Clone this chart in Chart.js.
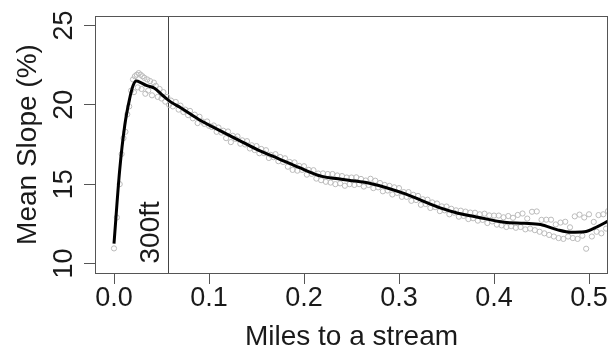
<!DOCTYPE html>
<html><head><meta charset="utf-8">
<script src="https://cdn.jsdelivr.net/npm/chart.js@4"></script>
<style>html,body{margin:0;padding:0;background:#fff}#wrap{width:613px;height:351px}</style>
</head><body>
<div id="wrap"><canvas id="c" width="613" height="351"></canvas></div>
<script>
// ---- data ----
const curveX = [0, 0.006, 0.0113, 0.0165, 0.02, 0.0234, 0.0287, 0.034, 0.0426, 0.0513, 0.06, 0.0706, 0.0897, 0.111, 0.1316, 0.1525, 0.1735, 0.194, 0.219, 0.236, 0.247, 0.271, 0.306, 0.341, 0.362, 0.383, 0.411, 0.432, 0.449, 0.467, 0.481, 0.495, 0.509, 0.52];
const curveY = [11.25, 15.9, 18.7, 20.4, 21.2, 21.5, 21.39, 21.22, 21.05, 20.59, 20.17, 19.8, 19.06, 18.39, 17.76, 17.13, 16.6, 16.07, 15.49, 15.34, 15.25, 15.03, 14.4, 13.55, 13.17, 12.92, 12.6, 12.54, 12.46, 12.12, 11.97, 12.0, 12.33, 12.67];
const scatterPts = [
[0,10.95],[0.003,12.9],[0.006,15.0],[0.008,16.9],[0.01,17.9],[0.012,18.3],[0.014,19.4],[0.016,19.9],[0.018,20.9],[0.02,21.6],
[0.021,20.8],[0.022,21.8],[0.024,21.9],[0.025,21.1],[0.026,22.0],[0.028,21.9],[0.029,21.0],[0.03,21.8],[0.032,21.7],[0.033,20.7],
[0.035,21.6],[0.036,20.9],[0.038,21.5],[0.04,20.6],[0.042,21.4],[0.044,21.2],[0.046,20.5],[0.048,21.0],[0.05,20.4],[0.052,20.8],
[0.054,20.2],[0.056,20.5],[0.058,20.0],
[0.06,20.27],[0.062,19.9],[0.065,20.18],[0.068,19.7],[0.07,19.95],[0.073,19.55],[0.075,19.7],[0.078,19.35],[0.08,19.62],[0.083,19.15],
[0.085,19.38],[0.088,18.85],[0.09,19.25],[0.093,18.95],[0.095,18.8],[0.098,18.95],[0.1,18.68],[0.103,18.6],[0.105,18.7],[0.108,18.3],
[0.11,18.57],[0.113,18.25],[0.115,18.37],[0.118,17.9],[0.12,18.32],[0.123,17.65],[0.125,18.05],[0.128,17.85],[0.13,18.01],[0.133,17.55],
[0.135,17.76],[0.138,17.5],[0.14,17.71],[0.143,17.25],[0.145,17.45],[0.148,17.15],[0.15,17.4],[0.153,16.95],[0.155,17.22],[0.158,16.95],
[0.16,17.14],[0.163,16.65],[0.165,16.85],[0.168,16.7],[0.17,16.89],[0.173,16.45],[0.175,16.71],[0.178,16.4],[0.18,16.63],[0.183,16.1],
[0.185,16.4],[0.188,15.9],[0.19,16.37],[0.193,15.85],[0.195,16.15],[0.198,15.9],[0.2,16.13],[0.203,15.6],[0.205,15.9],[0.208,15.65],
[0.21,15.88],[0.213,15.35],[0.215,15.67],[0.218,15.25],[0.22,15.68],[0.223,15.15],[0.225,15.64],[0.228,15.1],[0.23,15.64],[0.233,15.0],
[0.235,15.55],[0.238,15.05],[0.24,15.51],[0.243,14.9],[0.245,15.42],[0.248,15.0],[0.25,15.42],[0.253,14.95],[0.255,15.43],[0.258,15.0],
[0.26,15.33],[0.263,14.85],[0.265,15.23],[0.268,14.95],[0.27,15.34],[0.273,14.75],[0.275,15.22],[0.278,14.8],[0.28,15.07],[0.283,14.55],
[0.285,14.95],[0.288,14.6],[0.29,14.89],[0.293,14.35],[0.295,14.8],[0.298,14.45],[0.3,14.75],[0.303,14.2],[0.305,14.5],[0.308,14.2],
[0.31,14.5],[0.313,13.95],[0.315,14.33],[0.318,14.0],[0.32,14.26],[0.323,13.7],[0.325,14.05],[0.328,13.75],[0.33,14.02],[0.333,13.5],
[0.335,13.85],[0.338,13.55],[0.34,13.78],[0.343,13.3],[0.345,13.6],[0.348,13.35],[0.35,13.59],[0.353,13.1],[0.355,13.45],[0.358,13.2],
[0.36,13.35],[0.363,12.95],[0.365,13.33],[0.368,13.0],[0.37,13.27],[0.373,12.8],[0.375,13.21],[0.378,12.85],[0.38,13.2],[0.383,12.7],
[0.385,13.1],[0.388,12.75],[0.39,13.14],[0.393,12.55],[0.395,13.03],[0.398,12.65],[0.4,13.02],[0.403,12.45],[0.405,13.02],[0.408,12.4],
[0.41,12.91],[0.413,12.3],[0.415,12.99],[0.418,12.35],[0.42,12.88],[0.423,12.25],[0.425,13.06],[0.428,12.3],[0.43,13.15],[0.433,12.15],
[0.435,12.83],[0.438,12.2],[0.44,13.26],[0.443,12.1],[0.445,13.28],[0.448,12.0],[0.45,12.75],[0.453,11.9],[0.455,12.76],[0.458,11.8],
[0.46,12.76],[0.463,11.7],[0.465,12.46],[0.468,11.6],[0.47,12.58],[0.473,11.55],[0.475,12.63],[0.478,11.7],[0.48,12.28],[0.483,11.6],
[0.485,12.97],[0.488,11.55],[0.49,13.08],[0.493,11.75],[0.495,12.9],[0.497,10.93],[0.5,13.1],[0.503,11.7],[0.505,12.62],[0.508,12.0],
[0.51,13.05],[0.513,11.9],[0.515,13.1],[0.518,12.2],[0.52,13.3]
];
const xTicks = [0, 0.1, 0.2, 0.3, 0.4, 0.5];
const xTickLabels = ['0.0', '0.1', '0.2', '0.3', '0.4', '0.5'];
const yTicks = [10, 15, 20, 25];
const yTickLabels = ['10', '15', '20', '25'];
const markerX = 0.0568;
const markerLabel = '300ft';
const xTitle = 'Miles to a stream';
const yTitle = 'Mean Slope (%)';

// ---- styling ----
const FONT = '"Liberation Sans", Arial, Helvetica, sans-serif';
const AXIS_COL = '#555';
const TEXT_COL = '#1a1a1a';

const curveData = curveX.map((x, i) => ({x: x, y: curveY[i]}));
const scatterData = scatterPts.map(p => ({x: p[0], y: p[1]}));

const decorPlugin = {
  id: 'decor',
  beforeDatasetsDraw(chart) {
    const {ctx, chartArea: a, scales} = chart;
    const xs = scales.x, ys = scales.y;
    const px = Math.round(xs.getPixelForValue(markerX)) + 0.5;
    ctx.save();
    ctx.strokeStyle = '#444';
    ctx.lineWidth = 1;
    ctx.beginPath();
    ctx.moveTo(px, a.top);
    ctx.lineTo(px, a.bottom);
    ctx.stroke();
    ctx.fillStyle = TEXT_COL;
    ctx.font = '28px ' + FONT;
    ctx.translate(px - 17, ys.getPixelForValue(10));
    ctx.rotate(-Math.PI / 2);
    ctx.textAlign = 'left';
    ctx.textBaseline = 'middle';
    ctx.fillText(markerLabel, 0, 0);
    ctx.restore();
  },
  afterDraw(chart) {
    const {ctx, chartArea: a, scales} = chart;
    const ys = scales.y;
    ctx.save();
    ctx.strokeStyle = AXIS_COL;
    ctx.lineWidth = 1;
    ctx.strokeRect(Math.round(a.left) + 0.5, Math.round(a.top) + 0.5,
      Math.round(a.right - a.left) - 1, Math.round(a.bottom - a.top));
    ctx.fillStyle = TEXT_COL;
    ctx.font = '27px ' + FONT;
    ctx.textAlign = 'center';
    ctx.textBaseline = 'middle';
    yTicks.forEach((v, i) => {
      const py = ys.getPixelForValue(v);
      ctx.save();
      ctx.translate(ys.right - 30, py);
      ctx.rotate(-Math.PI / 2);
      ctx.fillText(yTickLabels[i], 0, 0);
      ctx.restore();
    });
    ctx.restore();
  }
};

new Chart(document.getElementById('c'), {
  data: {
    datasets: [
      {
        type: 'line',
        data: curveData,
        borderColor: '#000',
        borderWidth: 3,
        pointRadius: 0,
        fill: false,
        cubicInterpolationMode: 'monotone',
        order: 0
      },
      {
        type: 'scatter',
        data: scatterData,
        pointStyle: 'circle',
        pointRadius: 2.6,
        pointBorderWidth: 1,
        pointBorderColor: '#bbbbbb',
        pointBackgroundColor: 'rgba(0,0,0,0)',
        order: 1
      }
    ]
  },
  options: {
    responsive: false,
    animation: false,
    devicePixelRatio: 1,
    layout: {padding: {top: 16, right: 2, left: 0, bottom: 0}},
    plugins: {legend: {display: false}, tooltip: {enabled: false}},
    scales: {
      x: {
        type: 'linear',
        min: -0.02,
        max: 0.52,
        afterBuildTicks: s => { s.ticks = xTicks.map(v => ({value: v})); },
        afterFit: s => { s.height = 78; },
        grid: {drawOnChartArea: false, color: AXIS_COL, tickColor: AXIS_COL, tickLength: 11, lineWidth: 1},
        border: {display: false},
        ticks: {
          callback: (v, i) => xTickLabels[i],
          color: TEXT_COL,
          font: {family: FONT, size: 27, lineHeight: 1},
          padding: 1,
          maxRotation: 0,
          minRotation: 0,
          autoSkip: false
        },
        title: {
          display: true,
          text: xTitle,
          color: TEXT_COL,
          font: {family: FONT, size: 28, lineHeight: 1},
          padding: {top: 0, bottom: 0}
        }
      },
      y: {
        type: 'linear',
        min: 9.4,
        max: 25.6,
        afterBuildTicks: s => { s.ticks = yTicks.map(v => ({value: v})); },
        afterFit: s => { s.width = 95; },
        grid: {drawOnChartArea: false, color: AXIS_COL, tickColor: AXIS_COL, tickLength: 11, lineWidth: 1},
        border: {display: false},
        ticks: {display: false},
        title: {
          display: true,
          text: yTitle,
          color: TEXT_COL,
          font: {family: FONT, size: 28, lineHeight: 1},
          padding: {top: 14, bottom: 14}
        }
      }
    }
  },
  plugins: [decorPlugin]
});
</script>
</body></html>
